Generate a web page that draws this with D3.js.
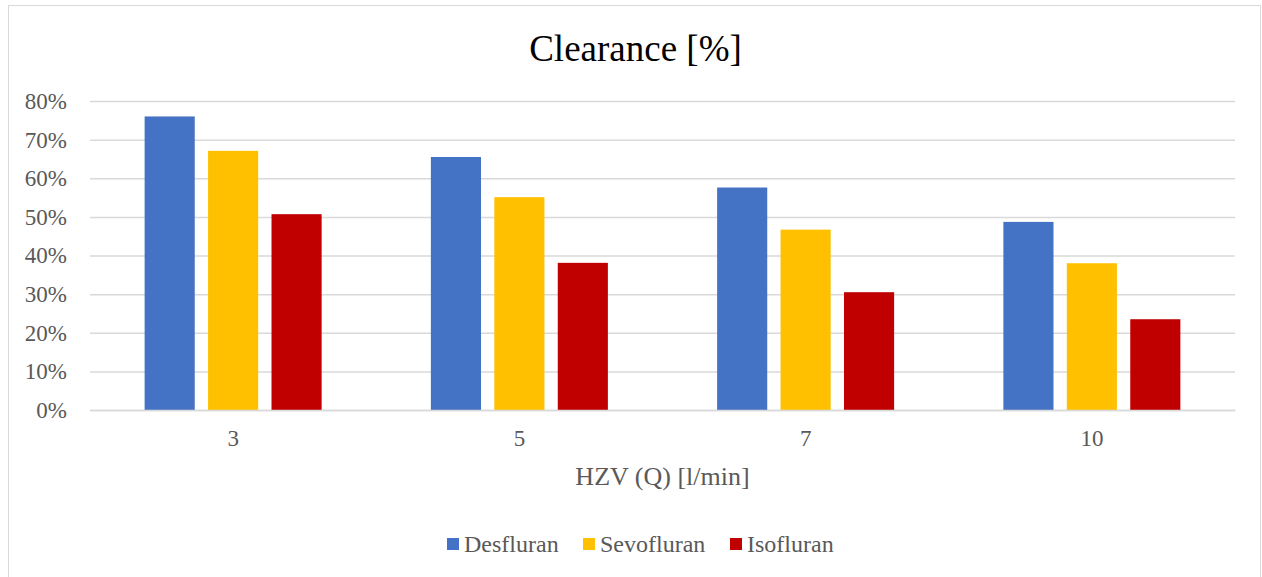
<!DOCTYPE html>
<html>
<head>
<meta charset="utf-8">
<script src="https://cdn.jsdelivr.net/npm/d3@7"></script>
<style>
  body { margin: 0; background: #fff; }
  text { font-family: "Liberation Serif", "Times New Roman", serif; }
</style>
</head>
<body>
<div id="chart"></div>
<script>
// data
var categories = ["3", "5", "7", "10"];
var seriesNames = ["Desfluran", "Sevofluran", "Isofluran"];
var desfluran = [0.760, 0.655, 0.576, 0.487];
var sevofluran = [0.671, 0.551, 0.467, 0.380];
var isofluran = [0.507, 0.381, 0.305, 0.235];
var yTicks = [0, 0.1, 0.2, 0.3, 0.4, 0.5, 0.6, 0.7, 0.8];
var colors = ["#4472c4", "#ffc000", "#c00000"];

var series = [desfluran, sevofluran, isofluran];

var W = 1262, H = 577;
var margin = {top: 101, right: 27, bottom: 167, left: 90},
    width = W - margin.left - margin.right,
    height = H - margin.top - margin.bottom;

var svg = d3.select("#chart").append("svg")
    .attr("width", W)
    .attr("height", H);

// outer chart border
svg.append("rect")
    .attr("x", 8.5).attr("y", 5.5)
    .attr("width", 1252).attr("height", 600)
    .attr("fill", "none")
    .attr("stroke", "#d9d9d9");

var g = svg.append("g")
    .attr("transform", "translate(" + margin.left + "," + margin.top + ")");

var x = d3.scaleBand().domain(categories).range([0, width]);
var x1 = d3.scaleBand().domain(seriesNames)
    .range([x.bandwidth() / 2 - 88.5, x.bandwidth() / 2 + 88.5])
    .paddingInner(0.21);
var y = d3.scaleLinear().domain([0, 0.8]).range([height, 0]);

var serif = "'Liberation Serif', 'Times New Roman', serif";

// gridlines
g.append("g")
    .call(d3.axisLeft(y).tickValues(yTicks).tickSize(-width).tickFormat(""))
    .call(function (a) {
        a.select(".domain").remove();
        a.selectAll("line").attr("stroke", "#d9d9d9").attr("stroke-width", 1.5);
    });

// y labels
g.append("g")
    .call(d3.axisLeft(y).tickValues(yTicks).tickSize(0).tickPadding(23)
        .tickFormat(d3.format(".0%")))
    .call(function (a) {
        a.attr("font-family", serif);
        a.select(".domain").remove();
        a.selectAll("text").attr("fill", "#595959").style("font-size", "23px");
    });

// bars
var groups = g.selectAll(".grp")
    .data(categories)
    .enter().append("g")
    .attr("class", "grp")
    .attr("transform", function (d) { return "translate(" + x(d) + ",0)"; });

groups.selectAll("rect")
    .data(function (d, i) {
        return series.map(function (s, j) { return {name: seriesNames[j], value: s[i], c: colors[j]}; });
    })
    .enter().append("rect")
    .attr("x", function (d) { return x1(d.name); })
    .attr("width", x1.bandwidth())
    .attr("y", function (d) { return y(d.value); })
    .attr("height", function (d) { return height - y(d.value); })
    .attr("fill", function (d) { return d.c; });

// x axis
g.append("g")
    .attr("transform", "translate(0," + height + ")")
    .call(d3.axisBottom(x).tickSize(0).tickPadding(20))
    .call(function (a) {
        a.attr("font-family", serif);
        a.select(".domain").attr("stroke", "#d9d9d9").attr("stroke-width", 1.5);
        a.selectAll("text").attr("fill", "#595959").style("font-size", "23px");
    });

// title
svg.append("text")
    .attr("x", margin.left + width / 2 - 27)
    .attr("y", 61)
    .attr("text-anchor", "middle")
    .style("font-size", "37px")
    .attr("fill", "#000")
    .text("Clearance [%]");

// axis title
svg.append("text")
    .attr("x", margin.left + width / 2)
    .attr("y", 485)
    .attr("text-anchor", "middle")
    .style("font-size", "26px")
    .attr("fill", "#595959")
    .text("HZV (Q) [l/min]");

// legend
var legendX = [447, 583, 730];
var legend = svg.selectAll(".leg")
    .data(seriesNames)
    .enter().append("g")
    .attr("class", "leg")
    .attr("transform", function (d, i) { return "translate(" + legendX[i] + ",538)"; });
legend.append("rect")
    .attr("width", 12).attr("height", 12)
    .attr("fill", function (d, i) { return colors[i]; });
legend.append("text")
    .attr("x", 17).attr("y", 14)
    .style("font-size", "24px")
    .attr("fill", "#595959")
    .text(function (d) { return d; });
</script>
</body>
</html>
